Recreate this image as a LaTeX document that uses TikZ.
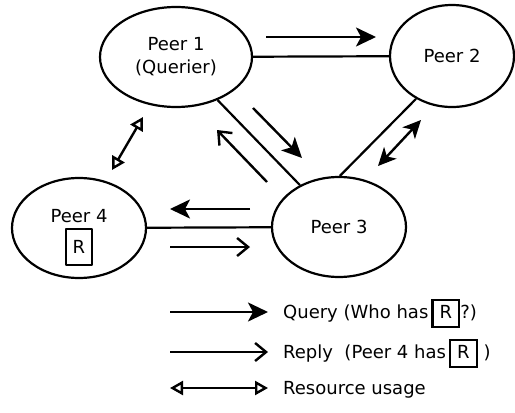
\documentclass[tikz,border=0pt]{standalone}
\usepackage{fontspec}
\setmainfont{DejaVu Sans}
\usetikzlibrary{arrows.meta,shapes.geometric}
\newcommand{\boxR}{{\fboxrule=2.2pt\fboxsep=4pt\fbox{\rule[-3pt]{0pt}{16pt}\hspace{2pt}R\hspace{2pt}}}}
\tikzset{
	peer/.style={draw, ellipse, line width=2.2pt, inner sep=0pt, align=center},
	link/.style={line width=2.2pt},
	query/.style={line width=2.4pt, -{Stealth[length=20pt,width=19pt,inset=5pt]}},
	reply/.style={line width=2.4pt, -{Straight Barb[length=11pt,width=18pt]}},
	usage/.style={line width=2.4pt, {Triangle[open,length=13pt,width=14pt]}-{Triangle[open,length=13pt,width=14pt]}},
	mutual/.style={line width=2.4pt, {Stealth[length=18pt,width=17pt,inset=5pt]}-{Stealth[length=18pt,width=17pt,inset=5pt]}},
	resbox/.style={draw, line width=2.2pt, minimum width=26pt, minimum height=36pt, inner sep=0pt},
	key/.style={anchor=base west, inner sep=0pt},
}
\begin{document}
\begin{tikzpicture}[x=1pt, y=-1pt, font=\fontsize{18}{23}\selectfont, line join=round]
	\useasboundingbox (0,0) rectangle (515,413);
	% peers
	\node[peer, minimum width=152pt, minimum height=100pt] (p1) at (176,57) {Peer 1\\(Querier)};
	\node[peer, minimum width=124pt, minimum height=102pt] (p2) at (452,56) {Peer 2};
	\node[peer, minimum width=134pt, minimum height=100pt] (p3) at (339,227) {Peer 3};
	\node[peer, minimum width=134pt, minimum height=100pt] (p4) at (79,228) {};
	\node (t4) at ([yshift=12pt]p4.center) {Peer 4};
	\node[resbox] (r4) at ([yshift=-19pt]p4.center) {R};
	% links
	\draw[link] (p1) -- (p2);
	\draw[link] (p1.314) -- (p3.133);
	\draw[link] (p2.230) -- (p3.89);
	\draw[link] (p4) -- (p3);
	% messages
	\draw[query] (266,37) -- (376,37);
	\draw[query] (253,108) -- (302,158);
	\draw[reply] (267,182) -- (217,130);
	\draw[query] (250,209) -- (170,209);
	\draw[reply] (170,247) -- (250,247);
	\draw[usage] (112,170) -- (143,117);
	\draw[mutual] (378,166) -- (421,120);
	% legend
	\coordinate (qa) at (170,312); \coordinate (qb) at (268,312);
	\coordinate (ra) at (170,352); \coordinate (rb) at (268,352);
	\coordinate (ua) at (170,388); \coordinate (ub) at (268,388);
	\draw[query] (qa) -- (qb);
	\draw[reply] (ra) -- (rb);
	\draw[usage] (ua) -- (ub);
	\node[key] (kq) at (283,318.5) {Query (Who has\,\boxR?)};
	\node[key] (kr) at (283,358.5) {Reply \ (Peer 4 has\,\boxR\ )};
	\node[key] (ku) at (283,394.5) {Resource usage};
\end{tikzpicture}
\end{document}
